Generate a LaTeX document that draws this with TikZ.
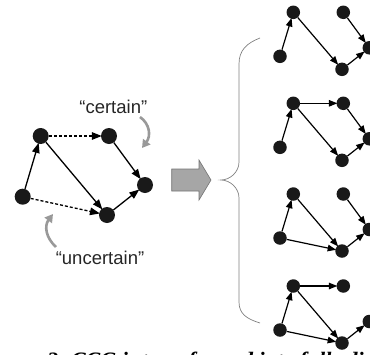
\documentclass[tikz,border=0pt]{standalone}
\usepackage{fontspec}
\setmainfont{Liberation Sans}
\newfontfamily\capfont{Liberation Serif}
\usetikzlibrary{arrows.meta}
\tikzset{
  bigdot/.style={circle, fill=black!90, inner sep=0pt, minimum size=16pt},
  smalldot/.style={circle, fill=black!90, inner sep=0pt, minimum size=13.5pt},
  edgeL/.style={line width=1.3pt, -{Triangle[length=10pt,width=7.5pt]}, shorten >=-1pt},
  edgeS/.style={line width=1.2pt, -{Triangle[length=8.5pt,width=6.5pt]}, shorten >=-1pt},
  dashedge/.style={edgeL, dash pattern=on 3pt off 2pt},
  grayarrow/.style={draw=black!40, line width=2.6pt, -{Triangle[length=8pt,width=9pt]}},
  label/.style={font=\fontsize{18.5}{21}\selectfont, text=black!85, inner sep=0pt},
  brace/.style={draw=black!50, line width=0.7pt},
  bigarrow/.style={fill=black!35, draw=black!55, line width=0.6pt}
}
\begin{document}
\begin{tikzpicture}[x=1pt,y=-1pt]
\useasboundingbox (0,0) rectangle (370,354);
\clip (0,0) rectangle (370,354);
% left graph
\node[bigdot] (A) at (40.7,136) {};
\node[bigdot] (B) at (109,136) {};
\node[bigdot] (C) at (145,185) {};
\node[bigdot] (D) at (107,215) {};
\node[bigdot] (E) at (22.7,196.7) {};
\draw[edgeL] (E) -- (A);
\draw[dashedge] (A) -- (B);
\draw[edgeL] (A) -- (D);
\draw[edgeL] (B) -- (C);
\draw[dashedge] (E) -- (D);
\draw[edgeL] (D) -- (C);
% labels
\node[label] (lc) at (113.3,106.5) {“certain”};
\node[label] (lu) at (100,258.3) {“uncertain”};
\coordinate (c1) at (140,117);
\coordinate (c2) at (142,148);
\draw[grayarrow] (c1) .. controls (150,124) and (151,136) .. (c2);
\coordinate (u1) at (56,247);
\coordinate (u2) at (53,214);
\draw[grayarrow] (u1) .. controls (46,238) and (44,226) .. (u2);
% big arrow
\draw[bigarrow] (171.7,169) -- (199,169) -- (199,160) -- (211,180) -- (199,200) -- (199,191) -- (171.7,191) -- cycle;
% brace
\draw[brace] (260,38) .. controls (247,43) and (239,50) .. (239,64) -- (239,162)
  .. controls (239,172) and (230,180) .. (221,180)
  .. controls (230,180) and (239,188) .. (239,198) -- (239,302)
  .. controls (239,314) and (247,319) .. (260,323);
% right graphs
\foreach \i/\y in {1/12.3,2/103.3,3/194,4/286}{
  \node[smalldot] (a\i) at (293.3,\y) {};
  \node[smalldot] (b\i) at (343.3,\y) {};
  \node[smalldot] (c\i) at (369.3,\y+35.5) {};
  \node[smalldot] (d\i) at (342,\y+57) {};
  \node[smalldot] (e\i) at (280,\y+44) {};
}
\draw[edgeS] (e1) -- (a1);
\draw[edgeS] (a1) -- (d1);
\draw[edgeS] (b1) -- (c1);
\draw[edgeS] (d1) -- (c1);
\draw[edgeS] (e2) -- (a2);
\draw[edgeS] (a2) -- (b2);
\draw[edgeS] (a2) -- (d2);
\draw[edgeS] (b2) -- (c2);
\draw[edgeS] (d2) -- (c2);
\draw[edgeS] (e3) -- (a3);
\draw[edgeS] (a3) -- (d3);
\draw[edgeS] (b3) -- (c3);
\draw[edgeS] (e3) -- (d3);
\draw[edgeS] (d3) -- (c3);
\draw[edgeS] (e4) -- (a4);
\draw[edgeS] (a4) -- (b4);
\draw[edgeS] (a4) -- (d4);
\draw[edgeS] (e4) -- (d4);
\draw[edgeS] (d4) -- (c4);
% caption (cut off)
\node[anchor=base west, inner sep=0pt, font=\capfont\bfseries\itshape\fontsize{22}{26}\selectfont] (cap) at (47,367) {2. CCG is transformed into fully directed};
\end{tikzpicture}
\end{document}
